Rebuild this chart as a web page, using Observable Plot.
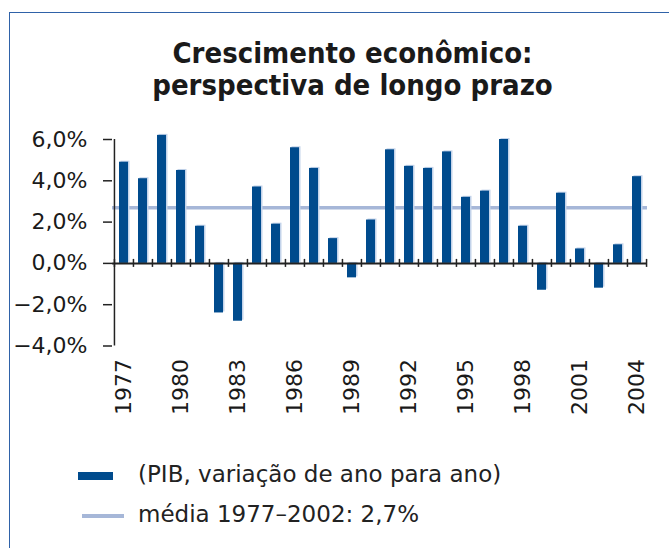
<!DOCTYPE html>
<html><head><meta charset="utf-8">
<script src="https://cdn.jsdelivr.net/npm/d3@7"></script>
<script src="https://cdn.jsdelivr.net/npm/@observablehq/plot@0.6"></script>
<style>
body{margin:0;background:#fff;}
#wrap{position:relative;width:669px;height:548px;overflow:hidden;font-family:"DejaVu Sans",sans-serif;background:#fff;}
#frame{position:absolute;left:9px;top:12px;width:800px;height:700px;border-left:1.5px solid #2f62a8;border-top:1.5px solid #2f62a8;}
#title{position:absolute;left:36px;width:633px;top:37px;text-align:center;font-family:"DejaVu Sans Condensed","DejaVu Sans",sans-serif;font-weight:bold;font-size:29px;line-height:32px;color:#1a1a1a;}
#chart{position:absolute;left:0;top:0;}
.sw{position:absolute;}
.lt{position:absolute;font-size:23px;line-height:23px;color:#222;white-space:nowrap;}
</style>
</head><body>
<div id="wrap">
  <div id="frame"></div>
  <div id="chart"></div>
  <div id="title"></div>
  <div id="legend"></div>
</div>
<script>
const titleLines = ["Crescimento econômico:", "perspectiva de longo prazo"];
const years = [1977,1978,1979,1980,1981,1982,1983,1984,1985,1986,1987,1988,1989,1990,1991,1992,1993,1994,1995,1996,1997,1998,1999,2000,2001,2002,2003,2004];
const growth = [4.9,4.1,6.2,4.5,1.8,-2.4,-2.8,3.7,1.9,5.6,4.6,1.2,-0.7,2.1,5.5,4.7,4.6,5.4,3.2,3.5,6.0,1.8,-1.3,3.4,0.7,-1.2,0.9,4.2];
const meanValue = [2.7];
const yTicks = [-4,-2,0,2,4,6];
const xTickLabels = [1977,1980,1983,1986,1989,1992,1995,1998,2001,2004];
const legendLabels = ["(PIB, variação de ano para ano)", "média 1977–2002: 2,7%"];

const barColor = "#004b8d";
const shadowColor = "#c3d3ea";
const meanColor = "#a6b7d8";
const axisColor = "#222";

const data = years.map((y, i) => ({year: y, value: growth[i]}));

document.getElementById("title").innerHTML = titleLines.join("<br>");

const W = 669, ML = 112, MR = 22;
const step = (W - ML - MR) / years.length;
const fmt = d => d3.format(".1f")(d).replace(".", ",") + "%";

const chart = Plot.plot({
  width: W, height: 548,
  marginLeft: ML, marginRight: MR, marginTop: 139, marginBottom: 202.5,
  style: {fontFamily: "DejaVu Sans", fontSize: "22px", color: "#1a1a1a", background: "transparent", overflow: "visible"},
  x: {type: "band", domain: years, paddingInner: 0.53, paddingOuter: 0.265, align: 0.5},
  y: {domain: [-4, 6]},
  marks: [
    Plot.ruleY(meanValue, {stroke: meanColor, strokeWidth: 3.5}),
    Plot.barY(data, {x: "year", y: "value", fill: shadowColor, dx: 1.5, dy: -1}),
    Plot.barY(data, {x: "year", y: "value", fill: barColor}),
    Plot.ruleY([0], {stroke: axisColor, strokeWidth: 2}),
    Plot.ruleX(years, {x: d => d, y1: 0, y2: 0, dx: -step / 2, insetTop: -4, insetBottom: -4, stroke: axisColor, strokeWidth: 1.5}),
    Plot.ruleX([years[years.length - 1]], {x: d => d, y1: 0, y2: 0, dx: step / 2, insetTop: -4, insetBottom: -4, stroke: axisColor, strokeWidth: 1.5}),
    Plot.ruleX([years[0]], {x: d => d, y1: -4, y2: 6, dx: -step / 2, stroke: axisColor, strokeWidth: 1.5}),
    Plot.axisY({ticks: yTicks, tickSize: 9, tickPadding: 16, tickFormat: fmt, stroke: axisColor, strokeWidth: 1.5, fontSize: 22, label: null}),
    Plot.axisX({ticks: xTickLabels, tickSize: 0, tickPadding: 13, tickRotate: -90, tickFormat: d => String(d), fontSize: 22, label: null})
  ]
});
document.getElementById("chart").appendChild(chart);

const legend = document.getElementById("legend");
const items = [
  {label: legendLabels[0], swatch: {left: 78, top: 472, width: 35, height: 8, background: barColor}, top: 462.5},
  {label: legendLabels[1], swatch: {left: 82, top: 514, width: 42, height: 3.5, background: meanColor}, top: 502.5}
];
items.forEach(it => {
  const s = document.createElement("div");
  s.className = "sw";
  Object.entries(it.swatch).forEach(([k, v]) => s.style[k] = typeof v === "number" ? v + "px" : v);
  legend.appendChild(s);
  const t = document.createElement("div");
  t.className = "lt";
  t.style.left = "138px";
  t.style.top = it.top + "px";
  t.textContent = it.label;
  legend.appendChild(t);
});
</script>
</body></html>
